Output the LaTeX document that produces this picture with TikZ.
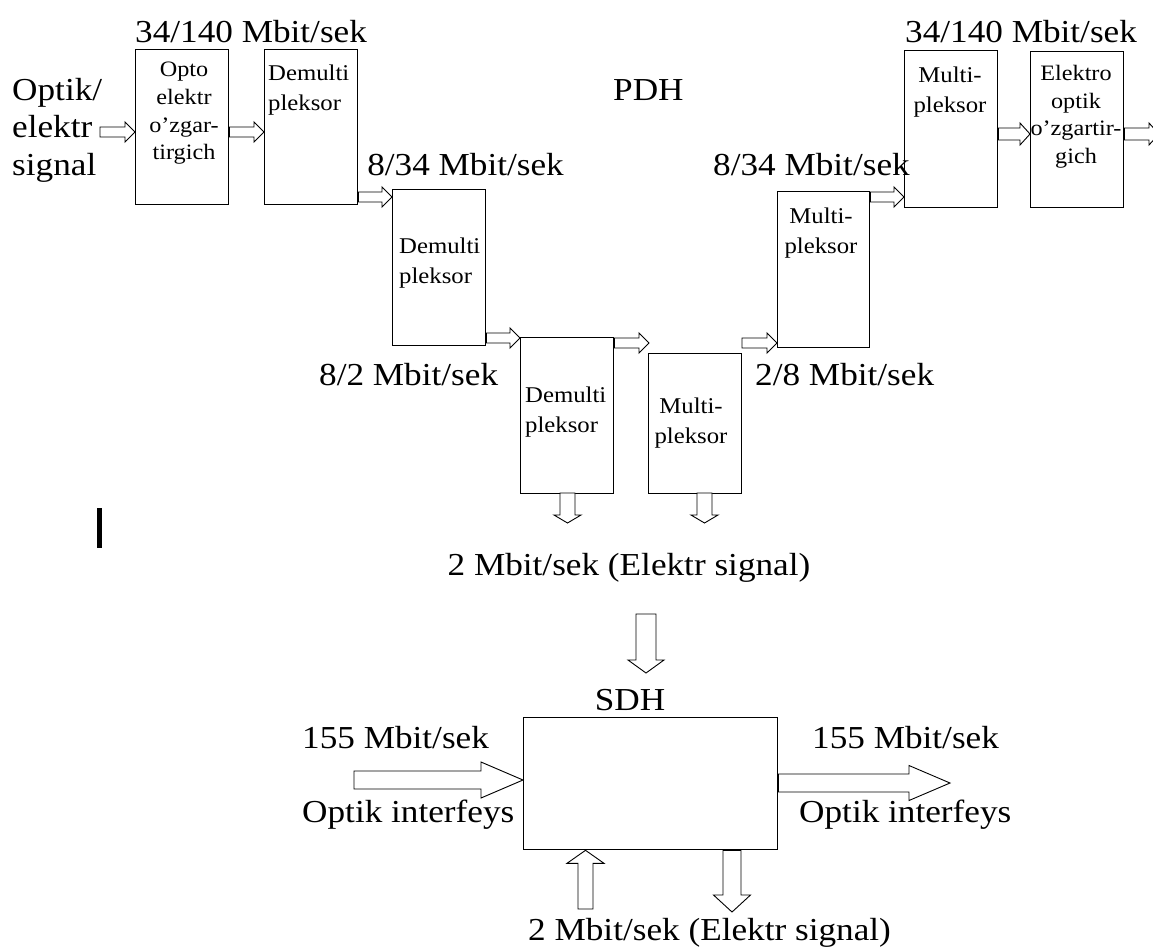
\documentclass[tikz,border=0pt]{standalone}
\usepackage{fontspec}
\setmainfont{Liberation Serif}[FakeStretch=1.1]
\usetikzlibrary{calc}
\tikzset{
  box/.style={draw=black, line width=1.3pt, fill=white, inner sep=0pt, anchor=north west},
  barrow/.style={draw=black, line width=0.9pt, fill=white, line join=miter},
  lbl/.style={inner sep=0pt, font=\fontsize{32}{37.5}\selectfont},
  btxt/.style={inner sep=0pt, anchor=north, font=\fontsize{22.5}{29.5}\selectfont},
  btxtf/.style={inner sep=0pt, anchor=north, align=center, font=\fontsize{22}{27.7}\selectfont}
}
% right-pointing block arrow: start, tip, half shaft, half head, head length
\newcommand{\rarr}[5]{\draw[barrow] ($(#1)+(0,-#3)$) -- ($(#2)+(-#5,-#3)$) -- ($(#2)+(-#5,-#4)$) -- (#2) -- ($(#2)+(-#5,#4)$) -- ($(#2)+(-#5,#3)$) -- ($(#1)+(0,#3)$) -- cycle;}
% down-pointing block arrow: start (top), tip
\newcommand{\darr}[5]{\draw[barrow] ($(#1)+(-#3,0)$) -- ($(#2)+(-#3,-#5)$) -- ($(#2)+(-#4,-#5)$) -- (#2) -- ($(#2)+(#4,-#5)$) -- ($(#2)+(#3,-#5)$) -- ($(#1)+(#3,0)$) -- cycle;}
% up-pointing block arrow: start (bottom), tip (top)
\newcommand{\uarr}[5]{\draw[barrow] ($(#1)+(-#3,0)$) -- ($(#2)+(-#3,#5)$) -- ($(#2)+(-#4,#5)$) -- (#2) -- ($(#2)+(#4,#5)$) -- ($(#2)+(#3,#5)$) -- ($(#1)+(#3,0)$) -- cycle;}
\begin{document}
\begin{tikzpicture}[x=1pt,y=-1pt]
\useasboundingbox[fill=white] (0,0) rectangle (1153,946);

% ---------- PDH boxes ----------
\node[box, minimum width=93pt, minimum height=155pt] (b1) at (135,49) {};
\node[box, minimum width=93pt, minimum height=155pt] (b2) at (264,49) {};
\node[box, minimum width=93pt, minimum height=156pt] (b3) at (392,189) {};
\node[box, minimum width=93pt, minimum height=156pt] (b4) at (520,337) {};
\node[box, minimum width=93pt, minimum height=140pt] (b5) at (648,353) {};
\node[box, minimum width=92pt, minimum height=156pt] (b6) at (777,191) {};
\node[box, minimum width=93pt, minimum height=157pt] (b7) at (904,50) {};
\node[box, minimum width=93pt, minimum height=156pt] (b8) at (1030,51) {};

% box texts
\node[btxtf] (t1) at (184,62) {Opto\\elektr\\o’zgar-\\tirgich};
\node[btxt, anchor=north west, align=left] (t2) at (268,65) {Demulti\\pleksor};
\node[btxt, anchor=north west, align=left] (t3) at (399,238) {Demulti\\pleksor};
\node[btxt, anchor=north west, align=left] (t4) at (525,387) {Demulti\\pleksor};
\node[btxt, align=center] (t5) at (691,398) {Multi-\\pleksor};
\node[btxt, align=center] (t6) at (821,208) {Multi-\\pleksor};
\node[btxt, align=center] (t7) at (950,67) {Multi-\\pleksor};
\node[btxtf] (t8) at (1076,65) {Elektro\\optik\\o’zgartir-\\gich};

% ---------- labels ----------
\node[lbl, anchor=north west, align=left] (inlbl) at (12,78) {Optik/\\elektr\\signal};
\node[lbl, anchor=base west] (r1) at (135,42) {34/140 Mbit/sek};
\node[lbl, anchor=base west] (pdh) at (613,100) {PDH};
\node[lbl, anchor=base east] (r2) at (564,175) {8/34 Mbit/sek};
\node[lbl, anchor=base west] (r3) at (713,175) {8/34 Mbit/sek};
\node[lbl, anchor=base west] (r4) at (319,385) {8/2 Mbit/sek};
\node[lbl, anchor=base west] (r5) at (755,385) {2/8 Mbit/sek};
\node[lbl, anchor=base west] (r6) at (905,42) {34/140 Mbit/sek};
\node[lbl, anchor=base] (mid) at (629,575) {2 Mbit/sek (Elektr signal)};

% ---------- small arrows ----------
\coordinate (ya) at (0,132);
\coordinate (yb) at (0,197);
\coordinate (yc) at (0,338);
\coordinate (yd) at (0,343);
\coordinate (yf) at (0,134);

\coordinate (a1s) at (100,132);
\coordinate (a1e) at (b1.west |- ya);
\rarr{a1s}{a1e}{5}{10}{10}
\coordinate (a2s) at (b1.east |- ya);
\coordinate (a2e) at (b2.west |- ya);
\rarr{a2s}{a2e}{5}{10}{10}
\coordinate (a3s) at (b2.east |- yb);
\coordinate (a3e) at (b3.west |- yb);
\rarr{a3s}{a3e}{5}{10}{10}
\coordinate (a4s) at (b3.east |- yc);
\coordinate (a4e) at (b4.west |- yc);
\rarr{a4s}{a4e}{5}{10}{10}
\coordinate (a5s) at (b4.east |- yd);
\coordinate (a5e) at (649,343);
\rarr{a5s}{a5e}{5}{10}{10}
\coordinate (a6s) at (742,343);
\coordinate (a6e) at (b6.west |- yd);
\rarr{a6s}{a6e}{5}{10}{10}
\coordinate (a7s) at (b6.east |- yb);
\coordinate (a7e) at (b7.west |- yb);
\rarr{a7s}{a7e}{5}{10}{10}
\coordinate (a8s) at (b7.east |- yf);
\coordinate (a8e) at (b8.west |- yf);
\rarr{a8s}{a8e}{6}{11}{10}
\coordinate (a9s) at (b8.east |- yf);
\coordinate (a9e) at (1159,134);
\rarr{a9s}{a9e}{6}{11}{10}

% down arrows below boxes 4 and 5
\coordinate (d1s) at (567.5,493);
\coordinate (d1e) at (567.5,523);
\darr{d1s}{d1e}{7.5}{13.5}{8}
\coordinate (d2s) at (704.5,493);
\coordinate (d2e) at (704.5,523);
\darr{d2s}{d2e}{7.5}{13.5}{8}

% ---------- SDH ----------
\node[box, minimum width=254pt, minimum height=132pt] (sdh) at (523,717) {};
\node[lbl, anchor=base] (sdhl) at (630,710) {SDH};

\coordinate (d3s) at (646,614);
\coordinate (d3e) at (646,673);
\darr{d3s}{d3e}{10}{18}{13}

\coordinate (yin) at (0,780);
\coordinate (i1s) at (354,780);
\coordinate (i1e) at (sdh.west |- yin);
\rarr{i1s}{i1e}{9}{18}{42}
\coordinate (yout) at (0,783);
\coordinate (o1s) at (sdh.east |- yout);
\coordinate (o1e) at (950,783);
\rarr{o1s}{o1e}{9}{17.5}{41}

\coordinate (xu) at (585.5,0);
\coordinate (u1s) at (585.5,909);
\coordinate (u1e) at (sdh.south -| xu);
\uarr{u1s}{u1e}{7.5}{18.5}{13}
\coordinate (xd) at (732,0);
\coordinate (d4s) at (sdh.south -| xd);
\coordinate (d4e) at (732,912);
\darr{d4s}{d4e}{9}{18.5}{17}

\node[lbl, anchor=base west] (l155a) at (302,748) {155 Mbit/sek};
\node[lbl, anchor=base west] (loia) at (302,822) {Optik interfeys};
\node[lbl, anchor=base west] (l155b) at (812,748) {155 Mbit/sek};
\node[lbl, anchor=base west] (loib) at (799,822) {Optik interfeys};
\node[lbl, anchor=base west] (bot) at (528,940) {2 Mbit/sek (Elektr signal)};

% stray vertical bar
\draw[line width=4.5pt] (99.5,508) -- (99.5,548);
\end{tikzpicture}
\end{document}
